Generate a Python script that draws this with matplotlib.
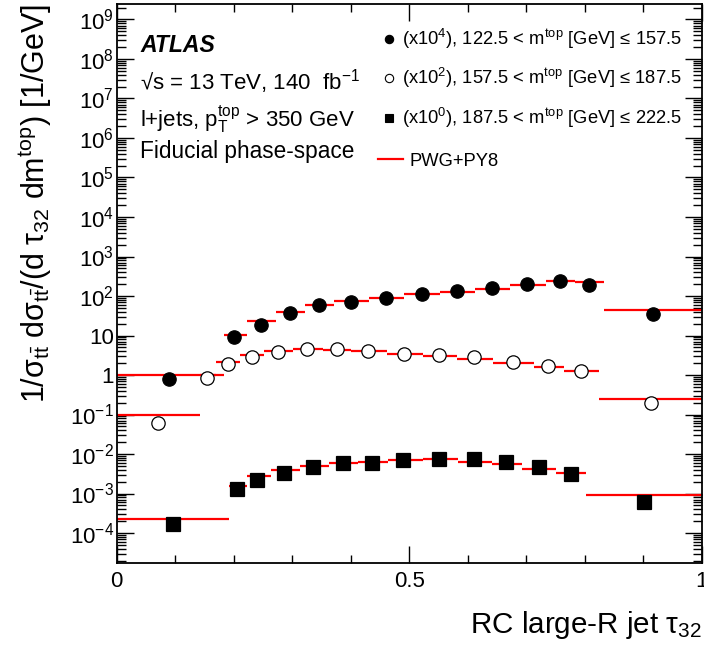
import numpy as np
import matplotlib.pyplot as plt
from matplotlib.lines import Line2D
from matplotlib.ticker import FixedLocator, LogLocator, FuncFormatter, NullFormatter, MultipleLocator

plt.rcParams['font.family'] = ['Liberation Sans', 'DejaVu Sans']
plt.rcParams['mathtext.fontset'] = 'custom'
plt.rcParams['mathtext.rm'] = 'Liberation Sans'
plt.rcParams['mathtext.it'] = 'Liberation Sans:italic'
plt.rcParams['mathtext.bf'] = 'Liberation Sans:bold'
plt.rcParams['mathtext.default'] = 'regular'

# 122.5 < m_top <= 157.5 GeV (drawn x10^4)
edges1 = [0, 0.183, 0.223, 0.273, 0.322, 0.371, 0.431, 0.491, 0.553, 0.613, 0.673, 0.733, 0.783, 0.833, 1.0]
pwg1 = [1.0e-4, 1.03e-3, 2.3e-3, 3.9e-3, 5.9e-3, 7.5e-3, 9.1e-3, 1.10e-2, 1.29e-2, 1.53e-2, 1.93e-2, 2.35e-2, 2.28e-2, 4.4e-3]
x1 = [0.090, 0.201, 0.246, 0.296, 0.346, 0.401, 0.461, 0.522, 0.582, 0.642, 0.702, 0.757, 0.807, 0.917]
meas1 = [7.8e-5, 9.0e-4, 1.87e-3, 3.8e-3, 5.9e-3, 7.2e-3, 9.1e-3, 1.14e-2, 1.36e-2, 1.62e-2, 2.04e-2, 2.40e-2, 1.90e-2, 3.5e-3]

# 157.5 < m_top <= 187.5 GeV (drawn x10^2)
edges2 = [0, 0.143, 0.170, 0.211, 0.252, 0.302, 0.352, 0.401, 0.462, 0.523, 0.582, 0.643, 0.713, 0.764, 0.824, 1.0]
pwg2 = [1.0e-3, 1.0e-2, 2.1e-2, 3.3e-2, 4.1e-2, 4.5e-2, 4.4e-2, 4.0e-2, 3.5e-2, 3.0e-2, 2.6e-2, 2.05e-2, 1.62e-2, 1.29e-2, 2.5e-3]
x2 = [0.070, 0.155, 0.190, 0.231, 0.276, 0.326, 0.376, 0.430, 0.491, 0.551, 0.611, 0.677, 0.737, 0.793, 0.913]
meas2 = [6.0e-4, 8.2e-3, 1.86e-2, 2.8e-2, 3.8e-2, 4.5e-2, 4.5e-2, 4.0e-2, 3.46e-2, 3.3e-2, 2.85e-2, 2.17e-2, 1.72e-2, 1.24e-2, 1.9e-3]

# 187.5 < m_top <= 222.5 GeV (drawn x10^0)
edges3 = [0, 0.192, 0.223, 0.263, 0.313, 0.363, 0.412, 0.463, 0.523, 0.583, 0.641, 0.692, 0.751, 0.803, 1.0]
pwg3 = [2.25e-4, 1.58e-3, 2.7e-3, 3.9e-3, 5.0e-3, 5.9e-3, 6.4e-3, 6.9e-3, 7.3e-3, 6.4e-3, 5.5e-3, 4.2e-3, 3.4e-3, 9.2e-4]
x3 = [0.096, 0.206, 0.2405, 0.286, 0.336, 0.386, 0.436, 0.490, 0.551, 0.611, 0.666, 0.722, 0.777, 0.902]
meas3 = [1.7e-4, 1.3e-3, 2.2e-3, 3.4e-3, 4.7e-3, 5.8e-3, 6.0e-3, 7.0e-3, 7.5e-3, 7.6e-3, 6.4e-3, 4.6e-3, 3.1e-3, 6.2e-4]

scales = [1e4, 1e2, 1e0]
markers = ['o', 'o', 's']
facecolors = ['black', 'white', 'black']
legend_labels = [r'(x$10^{4}$), 122.5 < $m^{top}$ [GeV] ≤ 157.5',
                 r'(x$10^{2}$), 157.5 < $m^{top}$ [GeV] ≤ 187.5',
                 r'(x$10^{0}$), 187.5 < $m^{top}$ [GeV] ≤ 222.5']

W, H = 704, 648
fig = plt.figure(figsize=(W / 100, H / 100), dpi=100)
ax = fig.add_axes([116.7 / W, 1 - 563 / H, 585 / W, 559 / H])

series = [(edges1, pwg1, x1, meas1), (edges2, pwg2, x2, meas2), (edges3, pwg3, x3, meas3)]
for (edges, pwg, xs, meas), sc, mk, fc in zip(series, scales, markers, facecolors):
    e = np.array(edges)
    ax.hlines(np.array(pwg) * sc, e[:-1], e[1:], colors='red', lw=1.6, zorder=2)
    ax.plot(xs, np.array(meas) * sc, ls='none', marker=mk, ms=9.6 if mk == 'o' else 9.4,
            mfc=fc, mec='black', mew=0.9, zorder=3)

ax.set_xlim(0, 1)
ax.set_yscale('log')
ax.set_ylim(10 ** -4.759, 10 ** 9.392)


def ylab(v, pos):
    n = int(round(np.log10(v)))
    if n == 0:
        return '1'
    if n == 1:
        return '10'
    return r'$10^{%d}$' % n


ax.yaxis.set_major_locator(LogLocator(base=10, numticks=30))
ax.yaxis.set_minor_locator(LogLocator(base=10, subs=np.arange(2, 10), numticks=30))
ax.yaxis.set_major_formatter(FuncFormatter(ylab))
ax.yaxis.set_minor_formatter(NullFormatter())
ax.xaxis.set_major_locator(FixedLocator([0, 0.5, 1]))
ax.xaxis.set_minor_locator(MultipleLocator(0.1))
ax.set_xticklabels(['0', '0.5', '1'])

ax.tick_params(which='both', direction='in', top=True, right=True, labelsize=16)
ax.tick_params(which='major', length=12.5, width=1.0)
ax.tick_params(axis='y', which='minor', length=6.5, width=1.0)
ax.tick_params(axis='x', which='minor', length=6.0, width=1.0)
ax.tick_params(axis='y', pad=2)
ax.tick_params(axis='x', pad=6)
for s in ax.spines.values():
    s.set_linewidth(1.3)

ax.set_ylabel(r'1/$\sigma_{t\bar{t}}$ d$\sigma_{t\bar{t}}$/(d $\tau_{32}$ d$m^{top}$) [1/GeV]',
              fontsize=22, loc='top')
ax.yaxis.set_label_coords(-0.108, 1.0)
ax.set_xlabel(r'RC large-R jet $\tau_{32}$', fontsize=21.3, loc='right')
ax.xaxis.set_label_coords(1.0, -0.082)

# ATLAS labels
fig.text(140 / W, 1 - 52.3 / H, 'ATLAS', fontsize=16.6, fontweight='bold', style='italic', va='baseline')
fig.text(140 / W, 1 - 90 / H, r'√s = 13 TeV, 140  fb$^{-1}$', fontsize=16.0, va='baseline')
fig.text(140 / W, 1 - 128 / H, r'l+jets, $p_{T}^{top}$ > 350 GeV', fontsize=16.0, va='baseline')
fig.text(140 / W, 1 - 158 / H, 'Fiducial phase-space', fontsize=16.3, va='baseline')

# legend
for i, (mk, fc, lab) in enumerate(zip(markers, facecolors, legend_labels)):
    ym = [39.3, 78.3, 118.3][i]
    yb = [45, 84.3, 124][i]
    fig.add_artist(Line2D([389.3 / W], [1 - ym / H], marker=mk, ms=6, mfc=fc, mec='black', mew=0.8, ls='none'))
    fig.text(401.7 / W, 1 - yb / H, lab, fontsize=13.2, va='baseline')
fig.add_artist(Line2D([378.3 / W, 403.3 / W], [1 - 159.3 / H, 1 - 159.3 / H], color='red', lw=1.6))
fig.text(409.3 / W, 1 - 166 / H, 'PWG+PY8', fontsize=13.2, va='baseline')

fig.savefig('out.png', dpi=100)
